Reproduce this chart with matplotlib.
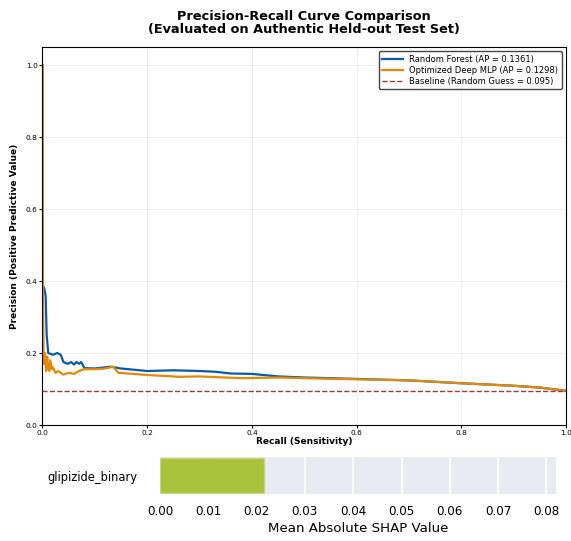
import matplotlib
matplotlib.use("Agg")
import matplotlib.pyplot as plt

# precision-recall points
rf_recall = [0.0, 0.0, 0.003, 0.006, 0.008, 0.011, 0.02, 0.028, 0.035, 0.04, 0.048, 0.055,
             0.06, 0.065, 0.07, 0.074, 0.08, 0.1, 0.13, 0.15, 0.2, 0.25, 0.3, 0.33, 0.36,
             0.4, 0.45, 0.5, 0.6, 0.7, 0.8, 0.9, 0.95, 1.0]
rf_precision = [1.0, 0.39, 0.38, 0.36, 0.25, 0.2, 0.195, 0.2, 0.195, 0.175, 0.17, 0.175,
                0.168, 0.175, 0.17, 0.175, 0.158, 0.157, 0.162, 0.157, 0.150, 0.152, 0.150,
                0.148, 0.143, 0.142, 0.135, 0.132, 0.128, 0.124, 0.116, 0.109, 0.104, 0.095]

mlp_recall = [0.0, 0.0, 0.002, 0.003, 0.005, 0.007, 0.009, 0.011, 0.013, 0.015, 0.018,
              0.02, 0.025, 0.03, 0.04, 0.05, 0.06, 0.07, 0.08, 0.1, 0.12, 0.135, 0.145,
              0.2, 0.26, 0.3, 0.38, 0.45, 0.5, 0.6, 0.7, 0.8, 0.9, 0.95, 1.0]
mlp_precision = [1.0, 0.5, 0.21, 0.17, 0.2, 0.15, 0.19, 0.16, 0.15, 0.18, 0.155, 0.16,
                 0.145, 0.15, 0.14, 0.145, 0.142, 0.15, 0.155, 0.155, 0.157, 0.162, 0.145,
                 0.139, 0.134, 0.135, 0.130, 0.132, 0.130, 0.127, 0.124, 0.116, 0.109,
                 0.104, 0.095]

rf_ap = 0.1361
mlp_ap = 0.1298
baseline = 0.095

shap_features = ["glipizide_binary"]
shap_values = [0.0216]

fig = plt.figure(figsize=(5.71, 5.41), dpi=100)

# --- PR curve panel
ax = fig.add_axes([0.0744, 0.2144, 0.9168, 0.6987])
ax.plot(rf_recall, rf_precision, color="#0b5aa8", lw=1.6,
        label=f"Random Forest (AP = {rf_ap:.4f})")
ax.plot(mlp_recall, mlp_precision, color="#e08a0b", lw=1.6,
        label=f"Optimized Deep MLP (AP = {mlp_ap:.4f})")
ax.axhline(baseline, color="#9e3a3a", ls="--", lw=1.0,
           label=f"Baseline (Random Guess = {baseline})")
ax.set_xlim(0, 1)
ax.set_ylim(0, 1.05)
ax.set_xticks([0, 0.2, 0.4, 0.6, 0.8, 1.0])
ax.set_yticks([0, 0.2, 0.4, 0.6, 0.8, 1.0])
ax.tick_params(labelsize=5.3, length=2, pad=1.5)
ax.grid(True, alpha=0.25, lw=0.6)
ax.set_xlabel("Recall (Sensitivity)", fontsize=6.5, fontweight="bold", labelpad=1)
ax.set_ylabel("Precision (Positive Predictive Value)", fontsize=6.5, fontweight="bold",
              labelpad=5)
ax.set_title("Precision-Recall Curve Comparison\n(Evaluated on Authentic Held-out Test Set)",
             fontsize=9.3, fontweight="bold", pad=10, linespacing=1.05)
ax.legend(loc="upper right", fontsize=6, framealpha=1, edgecolor="#444444",
          borderpad=0.4, labelspacing=0.25, handlelength=2.5)

# --- SHAP bar snippet
ax2 = fig.add_axes([0.280, 0.087, 0.694, 0.068])
ax2.set_facecolor("#eaeaf2")
ax2.grid(True, axis="x", color="white", lw=1.2)
ax2.set_axisbelow(True)
ax2.barh(shap_features, shap_values, height=0.8, color="#a8c23c", edgecolor="#c6d67a", lw=1)
ax2.set_xlim(0, 0.082)
ax2.set_ylim(-0.42, 0.42)
ax2.set_xticks([0.0, 0.01, 0.02, 0.03, 0.04, 0.05, 0.06, 0.07, 0.08])
ax2.xaxis.set_major_formatter(matplotlib.ticker.FormatStrFormatter("%.2f"))
for s in ax2.spines.values():
    s.set_visible(False)
ax2.tick_params(axis="x", labelsize=8.6, length=0, pad=8)
ax2.tick_params(axis="y", labelsize=8.3, length=0, pad=16)
ax2.set_xlabel("Mean Absolute SHAP Value", fontsize=9.6, labelpad=3)

fig.savefig("out.png", dpi=100)
